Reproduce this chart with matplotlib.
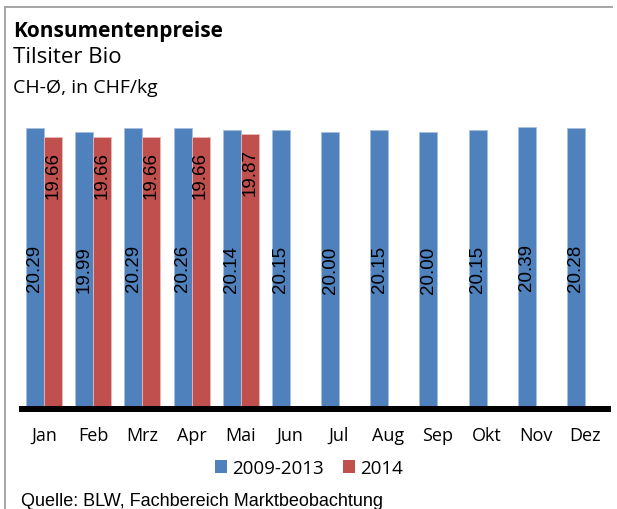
import matplotlib
matplotlib.use("Agg")
import matplotlib.pyplot as plt
import numpy as np
from matplotlib.lines import Line2D
from matplotlib.patches import Patch

months = ["Jan", "Feb", "Mrz", "Apr", "Mai", "Jun", "Jul", "Aug", "Sep", "Okt", "Nov", "Dez"]
avg_2009_2013 = [20.29, 19.99, 20.29, 20.26, 20.14, 20.15, 20.00, 20.15, 20.00, 20.15, 20.39, 20.28]
prices_2014 = [19.66, 19.66, 19.66, 19.66, 19.87]

BLUE = "#4F81BD"
RED = "#C0504D"
BARW = 0.366
W, H = 617, 510

fig = plt.figure(figsize=(W / 100, H / 100), dpi=100)
ax = fig.add_axes([19 / W, 103 / H, 592 / W, 297 / H])

# spine position first: moving it resets the tick labels
for s in ["top", "right", "left"]:
    ax.spines[s].set_visible(False)
ax.spines["bottom"].set_position(("outward", 2.16))
ax.spines["bottom"].set_linewidth(4.32)
ax.spines["bottom"].set_color("black")
ax.spines["bottom"].set_capstyle("butt")

x = np.arange(len(months))
x14 = np.arange(len(prices_2014))
b1 = ax.bar(x - BARW / 2, avg_2009_2013, width=BARW, color=BLUE,
            edgecolor="#A7BFDE", linewidth=0.6)
b2 = ax.bar(x14 + BARW / 2, prices_2014, width=BARW, color=RED,
            edgecolor="#E6B9B8", linewidth=0.6)

for rect, v in zip(b1, avg_2009_2013):
    ax.text(rect.get_x() + rect.get_width() / 2, v / 2, f"{v:.2f}",
            rotation=90, ha="center", va="center", fontsize=13.5,
            family="Liberation Sans", color="black")
for rect, v in zip(b2, prices_2014):
    ax.annotate(f"{v:.2f}", (rect.get_x() + rect.get_width() / 2, v),
                xytext=(0, -10.5), textcoords="offset points",
                rotation=90, ha="center", va="top", fontsize=13.5,
                family="Liberation Sans", color="black")

ax.set_xlim(-0.508, 11.53)
ax.set_ylim(0, 21.68)
ax.set_yticks([])
ax.set_xticks(x)
ax.set_xticklabels(months, family="Open Sans", fontsize=13)
ax.tick_params(axis="x", length=0, pad=12)

# outer frame (left and top edges only)
fig.add_artist(Line2D([5 / W, 5 / W], [0, 1 - 8 / H], color="#A6A6A6", lw=1.4))
fig.add_artist(Line2D([5 / W, 612 / W], [1 - 8 / H, 1 - 8 / H], color="#A6A6A6", lw=1.4))

fig.text(13 / W, 1 - 37 / H, "Konsumentenpreise", family="Open Sans", fontsize=15,
         fontweight="bold", va="baseline", ha="left")
fig.text(13 / W, 1 - 63 / H, "Tilsiter Bio", family="Open Sans", fontsize=16,
         va="baseline", ha="left")
fig.text(13 / W, 1 - 93 / H, "CH-Ø, in CHF/kg", family="Open Sans", fontsize=14,
         va="baseline", ha="left")

handles = [Patch(facecolor=BLUE, label="2009-2013"), Patch(facecolor=RED, label="2014")]
fig.legend(handles=handles, loc="center", bbox_to_anchor=(309 / W, 1 - 469 / H),
           ncol=2, frameon=False, prop={"family": "Open Sans", "size": 13.5},
           handlelength=0.64, handleheight=0.64, handletextpad=0.27, columnspacing=1.07)

fig.text(21 / W, 1 - 506 / H, "Quelle: BLW, Fachbereich Marktbeobachtung",
         family="Liberation Sans", fontsize=13, va="baseline", ha="left")

fig.savefig("out.png", dpi=100)
